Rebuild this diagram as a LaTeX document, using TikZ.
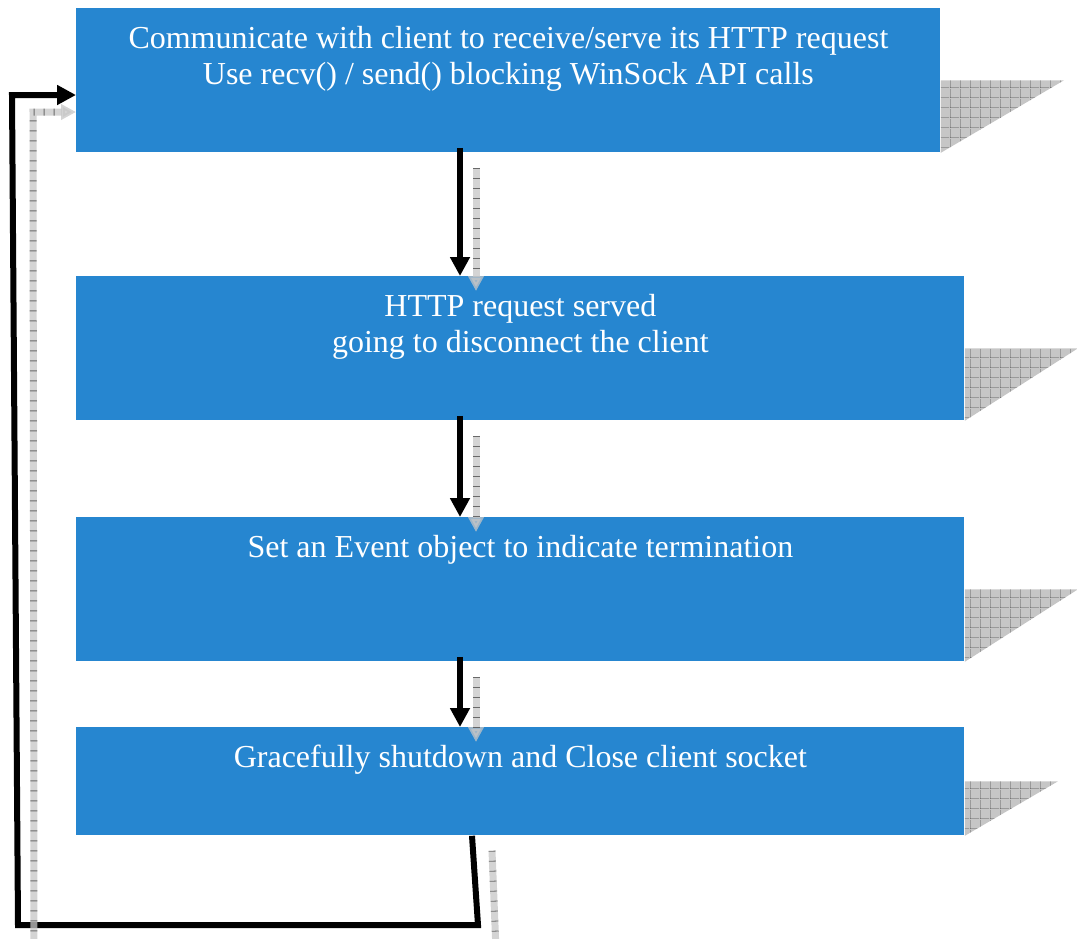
\documentclass[tikz,border=0pt]{standalone}
\usepackage{fontspec}
\setmainfont{Liberation Serif}
\usetikzlibrary{arrows.meta,calc,patterns.meta}
\definecolor{boxblue}{RGB}{38,134,208}
\tikzdeclarepattern{
  name=shadegrid,
  type=uncolored,
  bounding box={(0pt,0pt) and (5pt,5pt)},
  tile size={(5pt,5pt)},
  code={\draw[line width=0.4pt] (0pt,0pt) -- (5pt,0pt) (0pt,0pt) -- (0pt,5pt);}
}

\begin{document}
\begin{tikzpicture}[x=0.5pt,y=-0.5pt,>=Latex,
  box/.style={fill=boxblue,inner sep=0pt,anchor=north west,minimum height=72pt},
  txt/.style={text=white,align=center,anchor=north,inner sep=0pt,
    font=\fontsize{16}{18}\selectfont},
  flow/.style={-{Triangle[length=9.5pt,width=9.5pt]},line width=3pt,line join=miter},
  shade/.style={-{Triangle[length=7.5pt,width=7.5pt]},line width=3.5pt,draw=gray!45,opacity=0.75,
    postaction={draw=gray!55!black,-,dash pattern=on 0.4pt off 4.6pt,shorten >=7.5pt}},
  shadow/.style={fill=gray!45,postaction={pattern=shadegrid,pattern color=gray!60!black}}]
  \useasboundingbox (0,0) rectangle (1077,938);
  \clip (0,0) rectangle (1077,938);

  % boxes
  \node[box,minimum width=432pt] (b1) at (76,8) {};
  \node[box,minimum width=444pt] (b2) at (76,276) {};
  \node[box,minimum width=444pt] (b3) at (76,517) {};
  \node[box,minimum width=444pt,minimum height=54pt] (b4) at (76,727) {};

  % shadows at the right
  \fill[shadow] (b1.east) -- ++(123,0) -- (b1.south east) -- cycle;
  \fill[shadow] (b2.east) -- ++(113,0) -- (b2.south east) -- cycle;
  \fill[shadow] (b3.east) -- ++(113,0) -- (b3.south east) -- cycle;
  \fill[shadow] (b4.east) -- ++(93,0) -- (b4.south east) -- cycle;

  % arrows between the steps
  \foreach \a/\b in {b1/b2,b2/b3,b3/b4}{
    \draw[flow] ($(\a.south west)+(384,-5)$) -- ($(\b.north west)+(384,0)$);
  }

  % back to the first step
  \coordinate (l0) at ($(b4.south west)+(396,0)$);
  \coordinate (l1) at (478,925);
  \coordinate (l2) at (18,925);
  \coordinate (l3) at (12,95);
  \draw[flow] (l0) -- (l1) -- (l2) -- (l3) -- (l3 -| b1.west);

  % grey shadows of the arrows
  \foreach \a/\b in {b1/b2,b2/b3,b3/b4}{
    \draw[shade] ($(\a.south west)+(400,15)$) -- ($(\b.north west)+(400,15)$);
  }
  \coordinate (s0) at ($(b4.south west)+(416,15)$);
  \coordinate (s1) at (496,950);
  \coordinate (s2) at (34,950);
  \coordinate (s3) at (33,112);
  \draw[shade] (s0) -- (s1) -- (s2) -- (s3) -- (s3 -| b1.west);

  % texts
  \node[txt] (t1) at ($(b1.north)+(0,18)$)
    {Communicate with client to receive/serve its HTTP request\\Use recv() / send() blocking WinSock API calls};
  \node[txt] (t2) at ($(b2.north)+(0,18)$) {HTTP request served\\going to disconnect the client};
  \node[txt] (t3) at ($(b3.north)+(0,18)$) {Set an Event object to indicate termination};
  \node[txt] (t4) at ($(b4.north)+(0,18)$) {Gracefully shutdown and Close client socket};
\end{tikzpicture}
\end{document}
